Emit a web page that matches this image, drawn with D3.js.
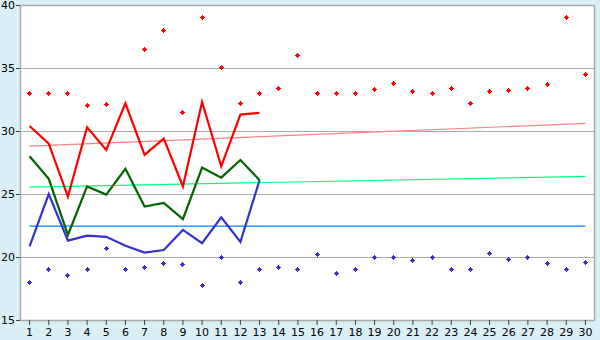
<!DOCTYPE html>
<html>
<head>
<meta charset="utf-8">
<script src="https://cdn.jsdelivr.net/npm/d3@7/dist/d3.min.js"></script>
<style>
  body { margin: 0; background: #d8eff6; }
  svg { display: block; }
  text { font-family: "DejaVu Sans", Verdana, sans-serif; font-size: 11px; fill: #000; }
</style>
</head>
<body>
<svg id="chart"></svg>
<script>
var days = d3.range(1, 31);
var yTicks = [15, 20, 25, 30, 35, 40];

var highDots = [33, 33, 33, 32, 32.1, null, 36.5, 38, 31.5, 39, 35, 32.2, 33, 33.4, 36,
                33, 33, 33, 33.3, 33.8, 33.15, 33, 33.4, 32.2, 33.15, 33.2, 33.4, 33.7, 39, 34.5];
var lowDots = [18, 19, 18.55, 19, 20.7, 19, 19.2, 19.5, 19.4, 17.75, 20, 18, 19, 19.2, 19,
               20.2, 18.7, 19, 20, 20, 19.75, 20, 19, 19, 20.3, 19.8, 20, 19.5, 19, 19.6];

var redLine = [30.4, 29, 24.8, 30.3, 28.5, 32.2, 28.1, 29.4, 25.6, 32.3, 27.2, 31.3, 31.45];
var greenLine = [28, 26.2, 21.75, 25.6, 24.95, 27, 24, 24.3, 23, 27.1, 26.3, 27.7, 26.1];
var blueLine = [20.85, 25, 21.3, 21.7, 21.6, 20.9, 20.35, 20.55, 22.15, 21.1, 23.15, 21.2, 26.1];

// trend lines: value at day 1 and day 30
var redTrend = [28.8, 30.6];
var greenTrend = [25.55, 26.4];
var blueTrend = [22.45, 22.45];

var width = 600, height = 340;
var margin = { top: 5, right: 5, bottom: 20, left: 20 };
var plotW = width - margin.left - margin.right,
    plotH = height - margin.top - margin.bottom;

var svg = d3.select('#chart').attr('width', width).attr('height', height);

var x = d3.scaleBand().domain(days).range([margin.left, margin.left + plotW]);
var y = d3.scaleLinear().domain([15, 40]).range([margin.top + plotH, margin.top]);
var cx = function (d) { return x(d) + x.bandwidth() / 2; };

svg.append('rect')
    .attr('x', margin.left).attr('y', margin.top)
    .attr('width', plotW).attr('height', plotH)
    .style('fill', '#fff');

// gridlines
svg.append('g').selectAll('line')
    .data(yTicks.slice(1, -1))
    .enter().append('line')
    .attr('x1', margin.left).attr('x2', margin.left + plotW)
    .attr('y1', function (d) { return Math.round(y(d)) + 0.5; })
    .attr('y2', function (d) { return Math.round(y(d)) + 0.5; })
    .style('stroke', '#aaa').style('stroke-width', 1);

svg.append('rect')
    .attr('x', margin.left + 0.5).attr('y', margin.top + 0.5)
    .attr('width', plotW - 1).attr('height', plotH)
    .style('fill', 'none').style('stroke', '#aaa').style('stroke-width', 1.5);

// axes
var yAxis = d3.axisLeft(y).tickValues(yTicks).tickSize(4).tickPadding(1);
var gy = svg.append('g').attr('transform', 'translate(' + margin.left + ',0)').call(yAxis);
gy.select('.domain').remove();
gy.selectAll('line').style('stroke', '#444');
gy.selectAll('text').style('font-size', '11px');

var xAxis = d3.axisBottom(x).tickSize(5).tickPadding(3);
var gx = svg.append('g').attr('transform', 'translate(0,' + (margin.top + plotH) + ')').call(xAxis);
gx.select('.domain').remove();
gx.selectAll('line').style('stroke', '#444');
gx.selectAll('text').style('font-size', '11px');

// trend lines
function trend(vals, color) {
    svg.append('line')
        .attr('x1', cx(days[0])).attr('x2', cx(days[days.length - 1]))
        .attr('y1', y(vals[0])).attr('y2', y(vals[1]))
        .style('stroke', color).style('stroke-width', 1.2);
}
trend(redTrend, '#ff8080');
trend(greenTrend, '#00ff80');
trend(blueTrend, '#0080ff');

// lines
var line = d3.line()
    .x(function (d, i) { return cx(days[i]); })
    .y(function (d) { return y(d); });

function drawLine(vals, color) {
    svg.append('path')
        .datum(vals)
        .attr('d', line)
        .style('fill', 'none')
        .style('stroke', color)
        .style('stroke-width', 2.2)
        .style('stroke-linejoin', 'miter');
}
drawLine(redLine, '#ff0000');
drawLine(greenLine, '#006400');
drawLine(blueLine, '#3333cc');

// markers: 5x5 plus with a 3x3 centre
var marker = 'M-0.5,-2.5h1v1h1v1h1v1h-1v1h-1v1h-1v-1h-1v-1h-1v-1h1v-1h1z';

function drawDots(vals, color) {
    svg.append('g').selectAll('path')
        .data(vals.map(function (v, i) { return { day: days[i], v: v }; })
            .filter(function (d) { return d.v != null; }))
        .enter().append('path')
        .attr('d', marker)
        .attr('transform', function (d) {
            return 'translate(' + (Math.floor(cx(d.day)) + 0.5) + ',' + (Math.floor(y(d.v)) + 0.5) + ')';
        })
        .style('fill', color)
        .style('shape-rendering', 'crispEdges');
}
drawDots(highDots, '#ff0000');
drawDots(lowDots, '#3333cc');
</script>
</body>
</html>
